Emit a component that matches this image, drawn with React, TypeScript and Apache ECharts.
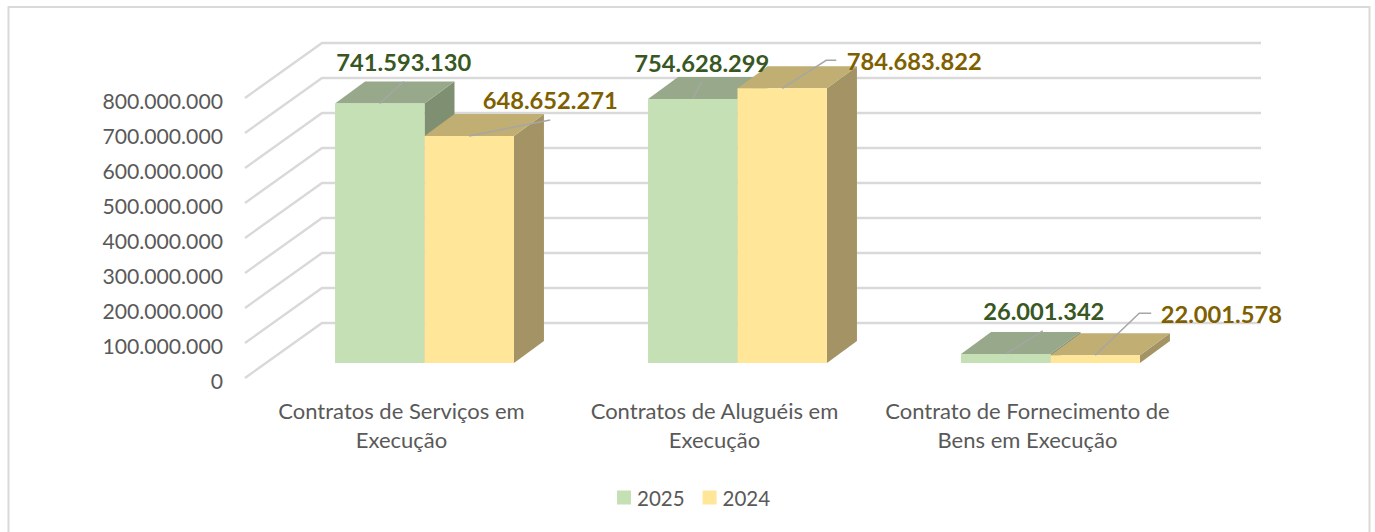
import React, { useEffect, useRef } from "react";
import * as echarts from "echarts";

const categories = [
  "Contratos de Serviços em\nExecução",
  "Contratos de Aluguéis em\nExecução",
  "Contrato de Fornecimento de\nBens em Execução",
];
const values2025 = [741593130, 754628299, 26001342];
const values2024 = [648652271, 784683822, 22001578];
const tickValues = [0, 100000000, 200000000, 300000000, 400000000, 500000000, 600000000, 700000000, 800000000];

const FONT = "Lato, 'Open Sans', sans-serif";
const WALL = { dx: 77, dy: -55 };
const BAR = { startX: 23, startY: -15, dx: 30, dy: -22 };

// Leader lines, relative to the centre of a bar's top front edge; the label follows the last point.
const leaders2025 = [
  { pts: [[24, -22]], text: [24, -41], align: "center" },
  { pts: [[9, -17]], text: [9, -36], align: "center" },
  { pts: [[37, -23]], text: [38, -42.5], align: "center" },
];
const leaders2024 = [
  { pts: [[81, -16]], text: [81, -36], align: "center" },
  { pts: [[44, -28], [54, -28]], text: [64.5, -27.5], align: "left" },
  { pts: [[44, -42], [56, -42]], text: [65.5, -41], align: "left" },
];

const fmt = (v: number) => String(v).replace(/\B(?=(\d{3})+(?!\d))/g, ".");

function barSeries(
  name: string,
  values: number[],
  side: number,
  colors: { front: string; top: string; side: string; label: string },
  leaders: typeof leaders2025,
) {
  return {
    name,
    type: "custom",
    coordinateSystem: "cartesian2d",
    itemStyle: { color: colors.front },
    encode: { x: 0, y: 1 },
    data: values.map((v, i) => [i, v]),
    renderItem: (params: any, api: any) => {
      const idx = api.value(0);
      const val = api.value(1);
      const band = api.size([1, 0])[0];
      const w = band * 0.2858;
      const top = api.coord([idx, val]);
      const base = api.coord([idx, 0]);
      const cx = top[0] + BAR.startX;
      const x0 = side < 0 ? cx - w : cx;
      const x1 = x0 + w;
      const yT = top[1] + BAR.startY;
      const yB = base[1] + BAR.startY;
      const d = BAR;
      const mid = (x0 + x1) / 2;
      const lead = leaders[idx];
      const pts = [[mid, yT], ...lead.pts.map((p) => [mid + p[0], yT + p[1]])];
      return {
        type: "group",
        children: [
          {
            type: "polygon",
            shape: { points: [[x1, yB], [x1 + d.dx, yB + d.dy], [x1 + d.dx, yT + d.dy], [x1, yT]] },
            style: { fill: colors.side },
          },
          {
            type: "polygon",
            shape: { points: [[x0, yT], [x0 + d.dx, yT + d.dy], [x1 + d.dx, yT + d.dy], [x1, yT]] },
            style: { fill: colors.top },
          },
          { type: "rect", shape: { x: x0, y: yT, width: w, height: yB - yT }, style: { fill: colors.front } },
          {
            type: "polyline",
            z2: 20,
            shape: { points: pts },
            style: { stroke: "#A6A6A6", lineWidth: 1.5, fill: "none" },
          },
          {
            type: "text",
            z2: 30,
            x: mid + lead.text[0],
            y: yT + lead.text[1],
            style: {
              text: fmt(val),
              font: `bold 23.7px ${FONT}`,
              fill: colors.label,
              align: lead.align,
              verticalAlign: "middle",
            },
          },
        ],
      };
    },
  };
}

export default function App() {
  const ref = useRef<HTMLDivElement>(null);
  useEffect(() => {
    const chart = echarts.init(ref.current!, undefined, { renderer: "svg" });
    chart.setOption({
      animation: false,
      backgroundColor: "#FFFFFF",
      textStyle: { fontFamily: FONT },
      graphic: [
        {
          type: "rect",
          silent: true,
          z: -1,
          shape: { x: 8.5, y: 7, width: 1361, height: 540 },
          style: { fill: "none", stroke: "#D9D9D9", lineWidth: 2 },
        },
      ],
      grid: { left: 245, top: 98, width: 939, height: 280, containLabel: false },
      legend: {
        data: ["2025", "2024"],
        left: 612,
        top: 482,
        icon: "rect",
        itemWidth: 14,
        itemHeight: 14,
        itemGap: 18,
        textStyle: { fontFamily: FONT, fontSize: 20.5, color: "#595959", padding: [0, 0, 0, 1] },
      },
      xAxis: {
        type: "category",
        data: categories,
        axisLine: { show: false },
        axisTick: { show: false },
        splitLine: { show: false },
        axisLabel: { interval: 0, color: "#595959", fontFamily: FONT, fontSize: 22, lineHeight: 29, margin: 18 },
      },
      yAxis: {
        type: "value",
        min: 0,
        max: 800000000,
        interval: 100000000,
        axisLine: { show: false },
        axisTick: { show: false },
        splitLine: { show: false },
        axisLabel: {
          color: "#595959",
          fontFamily: FONT,
          fontSize: 21.2,
          margin: 22,
          verticalAlign: "top",
          lineHeight: 6,
          formatter: (v: number) => fmt(v),
        },
      },
      series: [
        {
          type: "custom",
          name: "grade",
          coordinateSystem: "cartesian2d",
          silent: true,
          z: 1,
          encode: { x: 0, y: 1 },
          data: tickValues.map((v) => [0, v]),
          renderItem: (params: any, api: any) => {
            const p = api.coord([0, api.value(1)]);
            const sys = params.coordSys;
            return {
              type: "polyline",
              shape: {
                points: [
                  [sys.x, p[1]],
                  [sys.x + WALL.dx, p[1] + WALL.dy],
                  [sys.x + WALL.dx + sys.width, p[1] + WALL.dy],
                ],
              },
              style: { stroke: "#D9D9D9", lineWidth: 2.4, fill: "none" },
            };
          },
        },
        barSeries("2025", values2025, -1, { front: "#C5E0B4", top: "#97A98A", side: "#7F8F72", label: "#385723" }, leaders2025),
        barSeries("2024", values2024, 1, { front: "#FFE699", top: "#C0AE72", side: "#A39365", label: "#7F6000" }, leaders2024),
      ],
    });
    return () => chart.dispose();
  }, []);
  return <div ref={ref} style={{ position: "fixed", left: 0, top: 0, width: 1375, height: 532 }} />;
}
